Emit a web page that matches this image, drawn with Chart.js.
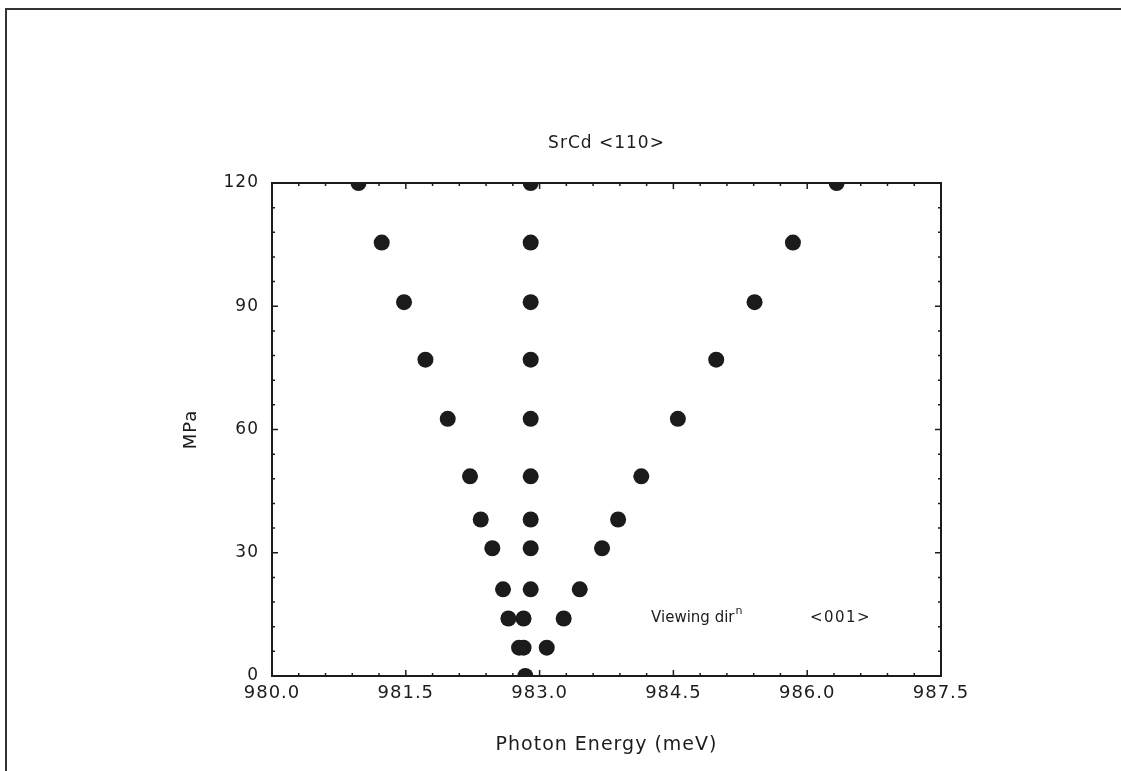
<!DOCTYPE html>
<html>
<head>
<meta charset="utf-8">
<title>SrCd &lt;110&gt;</title>
<script src="https://cdn.jsdelivr.net/npm/chart.js@4.4.1/dist/chart.umd.min.js"></script>
<style>
  html, body { margin: 0; padding: 0; background: #fff; }
  #wrap { position: relative; width: 1121px; height: 771px; overflow: hidden; background: #fff; }
  #frame { position: absolute; left: 5px; top: 8px; right: -4px; bottom: -4px;
           border-top: 2px solid #333; border-left: 2px solid #333; pointer-events: none; }
  canvas { position: absolute; left: 0; top: 0; }
</style>
</head>
<body>
<div id="wrap">
  <canvas id="stressChart" width="1121" height="771"></canvas>
  <div id="frame"></div>
</div>
<script>
// Lower-energy component: stress (MPa) and line position (meV)
const lowP = [6.9, 14.0, 21.1, 31.1, 38.1, 48.6, 62.6, 77.0, 91.0, 105.5, 120];
const lowE = [982.77, 982.65, 982.59, 982.47, 982.34, 982.22, 981.97, 981.72, 981.48, 981.23, 980.97];

// Central component, stays put under stress
const midP = [0, 6.9, 14.0, 21.1, 31.1, 38.1, 48.6, 62.6, 77.0, 91.0, 105.5, 120];
const midE = [982.84, 982.82, 982.82, 982.90, 982.90, 982.90, 982.90, 982.90, 982.90, 982.90, 982.90, 982.90];

// Higher-energy component
const highP = [6.9, 14.0, 21.1, 31.1, 38.1, 48.6, 62.6, 77.0, 91.0, 105.5, 120];
const highE = [983.08, 983.27, 983.45, 983.70, 983.88, 984.14, 984.55, 984.98, 985.41, 985.84, 986.33];

// Axis ticks
const xTickValues = [980.0, 981.5, 983.0, 984.5, 986.0, 987.5];
const xTickLabels = ["980.0", "981.5", "983.0", "984.5", "986.0", "987.5"];
const yTickValues = [0, 30, 60, 90, 120];

const ink = "#1c1c1c";
const dotColor = "#1b1b1b";
const face = "'DejaVu Sans', 'Liberation Sans', sans-serif";

function points(es, ps) {
  return es.map((e, i) => ({ x: e, y: ps[i] }));
}

function dotSet(label, es, ps) {
  return {
    label: label,
    data: points(es, ps),
    pointStyle: "circle",
    pointRadius: 8,
    pointHoverRadius: 8,
    pointBackgroundColor: dotColor,
    pointBorderWidth: 0,
    showLine: false,
    clip: 0
  };
}

// Boxed frame, inward ticks, title and the viewing-direction note
const frameAndNotes = {
  id: "frameAndNotes",
  beforeLayout(chart) { chart.ctx.letterSpacing = "1px"; },
  beforeDraw(chart) { chart.ctx.letterSpacing = "1px"; },
  // keep the dots inside the plot box
  beforeDatasetsDraw(chart) {
    const { ctx, chartArea: a } = chart;
    ctx.save();
    ctx.beginPath();
    ctx.rect(a.left, a.top, a.right - a.left, a.bottom - a.top);
    ctx.clip();
  },
  afterDatasetsDraw(chart) {
    chart.ctx.restore();
  },
  afterDraw(chart) {
    const { ctx, chartArea: a, scales: { x, y } } = chart;
    ctx.save();
    ctx.strokeStyle = ink;
    ctx.lineWidth = 2;
    ctx.strokeRect(a.left, a.top, a.right - a.left, a.bottom - a.top);

    ctx.lineWidth = 1.5;
    ctx.beginPath();
    for (let i = 0; i <= 25; i++) {
      const px = x.getPixelForValue(x.min + i * 0.3);
      const len = i % 5 === 0 ? 6 : 3;
      ctx.moveTo(px, a.bottom); ctx.lineTo(px, a.bottom - len);
      ctx.moveTo(px, a.top); ctx.lineTo(px, a.top + len);
    }
    for (let i = 0; i <= 20; i++) {
      const py = y.getPixelForValue(y.min + i * 6);
      const len = i % 5 === 0 ? 6 : 3;
      ctx.moveTo(a.left, py); ctx.lineTo(a.left + len, py);
      ctx.moveTo(a.right, py); ctx.lineTo(a.right - len, py);
    }
    ctx.stroke();

    ctx.fillStyle = ink;
    ctx.textBaseline = "middle";
    ctx.textAlign = "center";
    ctx.letterSpacing = "1px";
    ctx.font = "17px " + face;
    ctx.fillText("SrCd <110>", (a.left + a.right) / 2, a.top - 39);

    ctx.textAlign = "left";
    const nx = x.getPixelForValue(984.25);
    const ny = y.getPixelForValue(14);
    ctx.letterSpacing = "0px";
    ctx.font = "15px " + face;
    ctx.fillText("Viewing dir", nx, ny);
    const w = ctx.measureText("Viewing dir").width;
    ctx.font = "11px " + face;
    ctx.fillText("n", nx + w + 1, ny - 7);
    ctx.letterSpacing = "1.5px";
    ctx.font = "15px " + face;
    ctx.fillText("<001>", x.getPixelForValue(986.03), ny);
    ctx.restore();
  }
};

const ctx = document.getElementById("stressChart").getContext("2d");
const stressChart = new Chart(ctx, {
  type: "scatter",
  data: {
    datasets: [
      dotSet("low", lowE, lowP),
      dotSet("mid", midE, midP),
      dotSet("high", highE, highP)
    ]
  },
  options: {
    responsive: false,
    devicePixelRatio: 1,
    animation: false,
    layout: { padding: { top: 183, right: 180, left: 0, bottom: 0 } },
    plugins: {
      legend: { display: false },
      tooltip: { enabled: false }
    },
    scales: {
      x: {
        type: "linear",
        min: 980,
        max: 987.5,
        grid: { display: false, drawTicks: false },
        border: { display: false },
        afterBuildTicks: (scale) => { scale.ticks = xTickValues.map(v => ({ value: v })); },
        afterFit: (scale) => { scale.height = 95; },
        ticks: {
          padding: 7,
          color: ink,
          font: { family: face, size: 18 },
          maxRotation: 0,
          callback: (value, index) => xTickLabels[index]
        },
        title: {
          display: true,
          text: "Photon Energy (meV)",
          color: ink,
          font: { family: face, size: 19 },
          padding: { top: 0, bottom: 15 }
        }
      },
      y: {
        type: "linear",
        min: 0,
        max: 120,
        grid: { display: false, drawTicks: false },
        border: { display: false },
        afterBuildTicks: (scale) => { scale.ticks = yTickValues.map(v => ({ value: v })); },
        afterFit: (scale) => { scale.width = 272; },
        ticks: {
          padding: 13,
          color: ink,
          font: { family: face, size: 17 },
          callback: (value) => String(value)
        },
        title: {
          display: true,
          text: "MPa",
          color: ink,
          font: { family: face, size: 18 },
          padding: { top: 181, bottom: 0 }
        }
      }
    }
  },
  plugins: [frameAndNotes]
});
</script>
</body>
</html>
